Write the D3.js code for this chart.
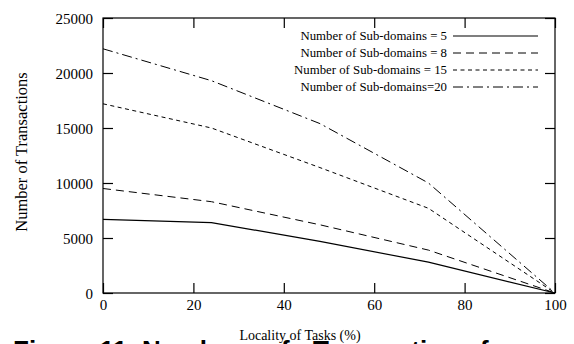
<!DOCTYPE html>
<html>
<head>
<meta charset="utf-8">
<script src="https://cdn.jsdelivr.net/npm/d3@7"></script>
<style>
  html, body { margin: 0; padding: 0; background: #fff; overflow: hidden; }
  svg { display: block; }
</style>
</head>
<body>
<svg id="chart" width="574" height="344"></svg>
<script>
// Locality of tasks (%) sampled along the x axis
const locality = [0, 24, 48, 72, 100];

// Number of transactions for each sub-domain count
const subdomains5  = [6700, 6400, 4700, 2800, 0];
const subdomains8  = [9500, 8300, 6200, 3900, 0];
const subdomains15 = [17200, 15000, 11400, 7700, 0];
const subdomains20 = [22200, 19300, 15400, 10000, 0];

const seriesLabels = [
  "Number of Sub-domains = 5",
  "Number of Sub-domains = 8",
  "Number of Sub-domains = 15",
  "Number of Sub-domains=20"
];

const xTicks = [0, 20, 40, 60, 80, 100];
const yTicks = [0, 5000, 10000, 15000, 20000, 25000];

const xLabel = "Locality of Tasks (%)";
const yLabel = "Number of Transactions";
// justified caption line, split into words
const captionWords = ["Figure 11:", "Number", "of", "Transactions", "for"];
const captionX = [13, 142, 265, 313, 480];

// line styles for the four series (gnuplot-like dash types)
const dashes = [null, "8,5", "4,3.5", "10,4,2,4"];

const series = [subdomains5, subdomains8, subdomains15, subdomains20];

const serifFont = '"Liberation Serif", "Times New Roman", serif';
const svg = d3.select("#chart");
const plotLeft = 103, plotRight = 555, plotTop = 18, plotBottom = 293;

const x = d3.scaleLinear().domain([0, 100]).range([plotLeft, plotRight]);
const y = d3.scaleLinear().domain([0, 25000]).range([plotBottom, plotTop]);

const tickLen = 10;
const fmt = d3.format("d");

// plot frame
svg.append("rect")
  .attr("x", plotLeft).attr("y", plotTop)
  .attr("width", plotRight - plotLeft).attr("height", plotBottom - plotTop)
  .attr("fill", "none").attr("stroke", "#000").attr("stroke-width", 1.2);

// bottom axis (ticks pointing inward) with labels
const xAxis = svg.append("g")
  .attr("transform", `translate(0,${plotBottom})`)
  .call(d3.axisBottom(x).tickValues(xTicks).tickFormat(fmt)
    .tickSizeInner(-tickLen).tickSizeOuter(0).tickPadding(6));
// mirrored top ticks
const xAxisTop = svg.append("g")
  .attr("transform", `translate(0,${plotTop})`)
  .call(d3.axisTop(x).tickValues(xTicks).tickSizeInner(-tickLen).tickSizeOuter(0).tickFormat(""));

// left axis with labels
const yAxis = svg.append("g")
  .attr("transform", `translate(${plotLeft},0)`)
  .call(d3.axisLeft(y).tickValues(yTicks).tickFormat(fmt)
    .tickSizeInner(-tickLen).tickSizeOuter(0).tickPadding(10));
// mirrored right ticks
const yAxisRight = svg.append("g")
  .attr("transform", `translate(${plotRight},0)`)
  .call(d3.axisRight(y).tickValues(yTicks).tickSizeInner(-tickLen).tickSizeOuter(0).tickFormat(""));

[xAxis, xAxisTop, yAxis, yAxisRight].forEach(g => {
  g.attr("font-family", serifFont).attr("font-size", 15);
  g.select(".domain").remove();
  g.selectAll(".tick line").attr("stroke", "#000").attr("stroke-width", 1.2);
  g.selectAll(".tick text").attr("fill", "#000");
});
yAxis.selectAll(".tick text").attr("dy", "0.34em");

// series lines
const line = d3.line()
  .x((d, i) => x(locality[i]))
  .y(d => y(d));

series.forEach((vals, i) => {
  svg.append("path")
    .datum(vals)
    .attr("d", line)
    .attr("fill", "none")
    .attr("stroke", "#000")
    .attr("stroke-width", i === 0 ? 1.2 : 1)
    .attr("stroke-dasharray", dashes[i]);
});

// legend
const legend = svg.append("g");
seriesLabels.forEach((lab, i) => {
  const ly = 36 + i * 17;
  legend.append("text")
    .attr("x", 447).attr("y", ly)
    .attr("dy", "0.34em")
    .attr("text-anchor", "end")
    .attr("font-family", serifFont)
    .attr("font-size", 12.8)
    .attr("fill", "#000")
    .text(lab);
  legend.append("line")
    .attr("x1", 453).attr("x2", 538)
    .attr("y1", ly).attr("y2", ly)
    .attr("stroke", "#000")
    .attr("stroke-width", i === 0 ? 1.2 : 1)
    .attr("stroke-dasharray", dashes[i]);
});

// figure caption, partly cut off by the bottom edge
const cap = svg.append("text")
  .attr("y", 359)
  .attr("font-family", '"Liberation Sans", Arial, sans-serif')
  .attr("font-weight", "bold")
  .attr("font-size", 26)
  .attr("fill", "#000");
captionWords.forEach((w, i) => {
  cap.append("tspan").attr("x", captionX[i]).text(w);
});

// axis titles
svg.append("text")
  .attr("x", 300).attr("y", 340)
  .attr("text-anchor", "middle")
  .attr("font-family", serifFont)
  .attr("font-size", 14)
  .attr("fill", "#000")
  .text(xLabel);

svg.append("text")
  .attr("transform", "translate(27,152) rotate(-90)")
  .attr("text-anchor", "middle")
  .attr("font-family", serifFont)
  .attr("font-size", 16.5)
  .attr("fill", "#000")
  .text(yLabel);
</script>
</body>
</html>
